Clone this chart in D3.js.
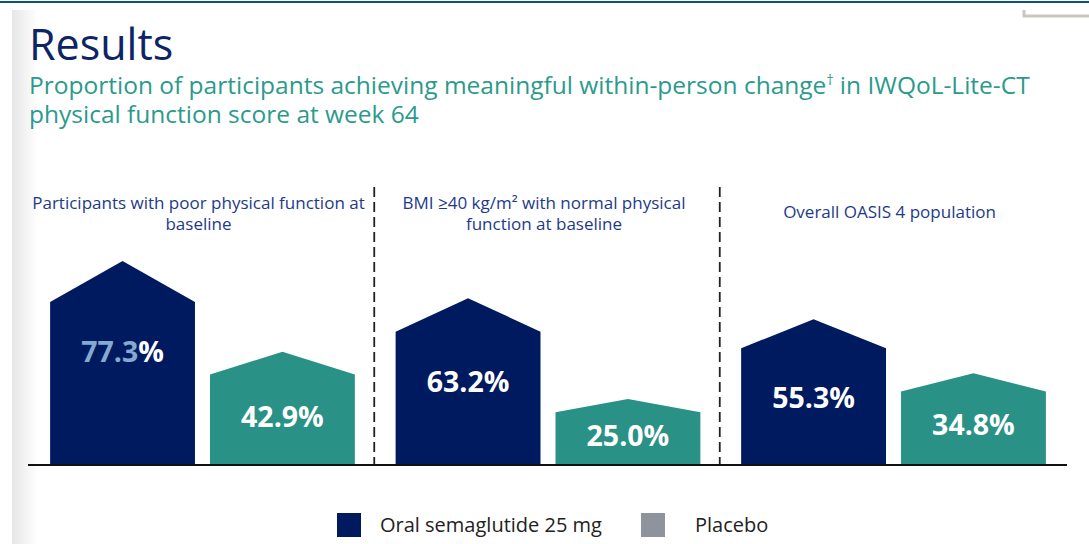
<!DOCTYPE html>
<html>
<head>
<meta charset="utf-8">
<script src="https://cdn.jsdelivr.net/npm/d3@7"></script>
<style>
  body { margin: 0; background: #fff; }
  svg { display: block; font-family: 'Open Sans', 'Noto Sans', sans-serif; }
</style>
</head>
<body>
<div id="chart"></div>
<script>
// data
const groups = ['poor', 'bmi', 'overall'];
const groupTitles = [
  ['Participants with poor physical function at', 'baseline'],
  ['BMI \u226540 kg/m\u00b2 with normal physical', 'function at baseline'],
  ['Overall OASIS 4 population']
];
const series = ['Oral semaglutide 25 mg', 'Placebo'];
const semaglutide = [77.3, 63.2, 55.3];
const placebo = [42.9, 25.0, 34.8];

const width = 1089, height = 544;
const baseY = 465;

const navy = '#001a5f';
const teal = '#2a9187';
const legendColors = [navy, '#8e939e'];
const barColors = [navy, teal];

const svg = d3.select('#chart').append('svg')
  .attr('width', width)
  .attr('height', height);

// left grey strip
const grad = svg.append('defs').append('linearGradient')
  .attr('id', 'strip').attr('x1', 0).attr('x2', 1);
grad.append('stop').attr('offset', 0).attr('stop-color', '#e6e6e6');
grad.append('stop').attr('offset', 1).attr('stop-color', '#ffffff');
svg.append('rect').attr('x', 12).attr('y', 10).attr('width', 26).attr('height', height - 10)
  .attr('fill', 'url(#strip)');

// top rule and corner bracket
svg.append('line').attr('x1', 0).attr('x2', width).attr('y1', 2).attr('y2', 2)
  .attr('stroke', '#0b5478').attr('stroke-width', 2);
svg.append('path').attr('d', 'M1024,10V16H1089')
  .attr('fill', 'none').attr('stroke', '#cbc7bf').attr('stroke-width', 3);

// headings
svg.append('text').attr('x', 29).attr('y', 60)
  .attr('font-size', 43).attr('fill', '#0d2466').text('Results');

const sub = svg.append('text').attr('font-size', 24.5).attr('fill', '#2b9a8c');
sub.append('tspan').attr('x', 29).attr('y', 94)
  .text('Proportion of participants achieving meaningful within-person change');
sub.append('tspan').attr('font-size', 14).attr('dy', -9).text('\u2020');
sub.append('tspan').attr('dy', 9).text(' in IWQoL-Lite-CT');
sub.append('tspan').attr('x', 29).attr('y', 123).text('physical function score at week 64');

// scales
const x = d3.scaleBand().domain(groups).range([28, 1068])
  .paddingInner(0.118).paddingOuter(0.064);
const xs = d3.scaleBand().domain(series).range([0, x.bandwidth()]).paddingInner(0.094);
const y = d3.scaleLinear().domain([0, 100]).range([baseY, baseY - 211]);

// dashed separators between panels
const gap = x.step() - x.bandwidth();
svg.selectAll('.sep').data(groups.slice(1)).join('line')
  .attr('class', 'sep')
  .attr('x1', d => x(d) - gap / 2 - 1).attr('x2', d => x(d) - gap / 2 - 1)
  .attr('y1', 187).attr('y2', baseY)
  .attr('stroke', '#222').attr('stroke-width', 1.8)
  .attr('stroke-dasharray', '10,5');

// panel titles
groups.forEach((g, i) => {
  const lines = groupTitles[i];
  const t = svg.append('text').attr('text-anchor', 'middle')
    .attr('font-size', 17).attr('fill', '#1d3a8a');
  const cx = x(g) + x.bandwidth() / 2 - 4;
  const y0 = lines.length === 1 ? 218 : 209;
  lines.forEach((l, j) => {
    t.append('tspan').attr('x', cx).attr('y', y0 + j * 21).text(l);
  });
});

// house shaped bars
const rows = [];
groups.forEach((g, i) => {
  [semaglutide[i], placebo[i]].forEach((v, k) => rows.push({ g, s: series[k], k, v }));
});

function house(d) {
  const x0 = x(d.g) + xs(d.s), x1 = x0 + xs.bandwidth();
  const shoulder = y(d.v), peak = y(d.v * 1.25);
  return `M${x0},${baseY}V${shoulder}L${(x0 + x1) / 2},${peak}L${x1},${shoulder}V${baseY}Z`;
}

svg.selectAll('.bar').data(rows).join('path')
  .attr('class', 'bar')
  .attr('d', house)
  .attr('fill', d => barColors[d.k]);

// value labels
const labels = svg.selectAll('.val').data(rows).join('text')
  .attr('class', 'val')
  .attr('text-anchor', 'middle')
  .attr('font-size', 28.5).attr('font-weight', 700).attr('fill', '#fff')
  .attr('x', d => x(d.g) + xs(d.s) + xs.bandwidth() / 2)
  .attr('y', d => d.k === 0 ? y(d.v) + 60 : (y(d.v) + baseY) / 2 + 7);
labels.each(function (d, i) {
  const t = d3.select(this);
  const txt = d.v.toFixed(1);
  if (i === 0) {
    // first label carries a selection-style highlight on the number
    t.append('tspan').attr('fill', '#86a9d2').text(txt);
    t.append('tspan').text('%');
  } else {
    t.text(txt + '%');
  }
});

// baseline
svg.append('line').attr('x1', 28).attr('x2', 1067).attr('y1', baseY).attr('y2', baseY)
  .attr('stroke', '#111').attr('stroke-width', 2.2);

// legend
const legendX = [337, 641];
const legendTextX = [380, 695];
series.forEach((s, i) => {
  svg.append('rect').attr('x', legendX[i]).attr('y', 513).attr('width', 24).attr('height', 24)
    .attr('fill', legendColors[i]);
  svg.append('text').attr('x', legendTextX[i]).attr('y', 532)
    .attr('font-size', 20).attr('fill', '#222').text(s);
});
</script>
</body>
</html>
